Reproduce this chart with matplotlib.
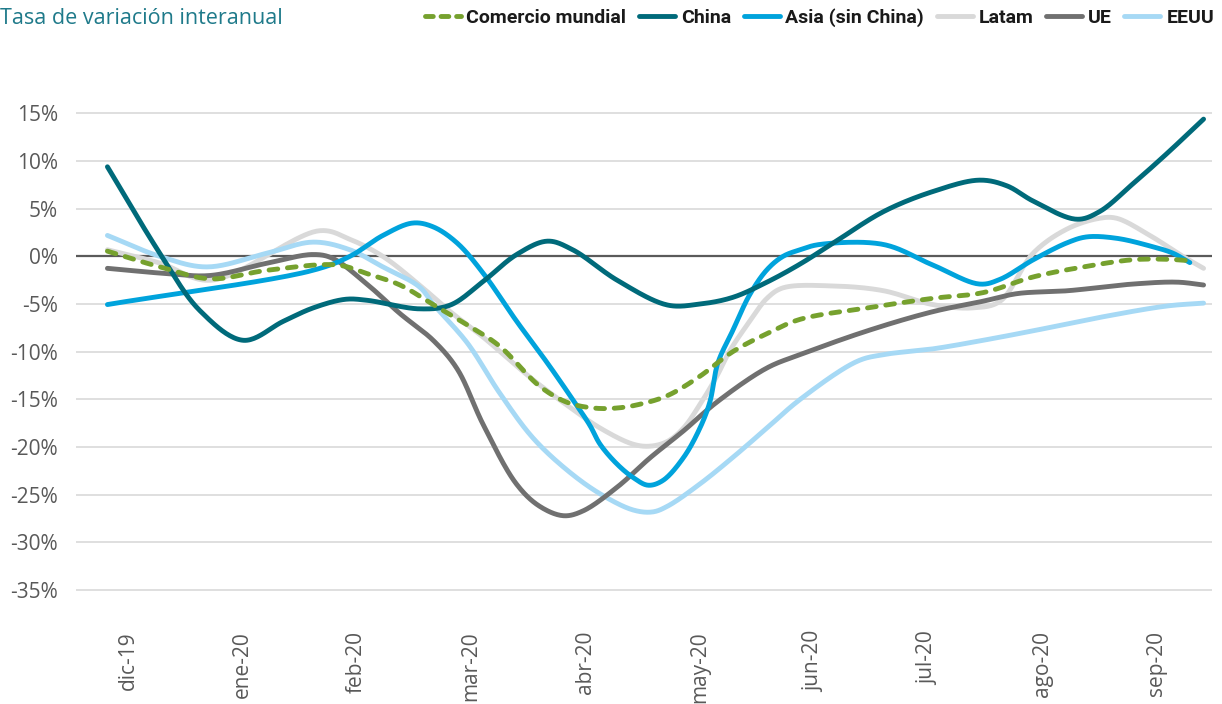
import numpy as np
import matplotlib
matplotlib.use("Agg")
import matplotlib.pyplot as plt
from matplotlib import font_manager as fm
from matplotlib.lines import Line2D

# ---------------- data (x = month index, 0 = dic-19) ----------------
month_labels = ["dic-19", "ene-20", "feb-20", "mar-20", "abr-20",
                "may-20", "jun-20", "jul-20", "ago-20", "sep-20"]
y_ticks = [15, 10, 5, 0, -5, -10, -15, -20, -25, -30, -35]

x_comercio = [-0.18, 0.28, 0.72, 1.22, 1.83, 2.09, 2.38, 2.67, 2.97, 3.25, 3.60, 3.84, 4.07,
              4.28, 4.48, 4.72, 5.00, 5.29, 5.59, 5.88, 6.47, 7.04, 7.48, 7.92, 8.36, 8.79,
              9.09, 9.29]
y_comercio = [0.55, -1.1, -2.35, -1.45, -0.9, -1.8, -3.0, -5.05, -7.2, -9.4, -13.6, -15.3, -15.9,
              -15.9, -15.5, -14.6, -12.6, -10.0, -8.1, -6.6, -5.4, -4.4, -3.8, -2.15, -1.1, -0.35,
              -0.3, -0.45]

x_china = [-0.18, 0.28, 0.63, 1.01, 1.36, 1.62, 1.90, 2.09, 2.55, 2.82, 3.11, 3.40, 3.67, 3.89,
           4.28, 4.72, 5.00, 5.29, 5.59, 5.88, 6.17, 6.61, 7.04, 7.45, 7.69, 7.92, 8.30, 8.50,
           8.79, 9.09, 9.41]
y_china = [9.4, 0.3, -5.7, -8.8, -6.8, -5.4, -4.5, -4.6, -5.5, -5.1, -2.6, 0.2, 1.6, 0.7,
           -2.5, -5.1, -5.0, -4.3, -2.7, -0.8, 1.4, 4.7, 6.8, 8.0, 7.4, 5.8, 3.9, 4.7,
           7.6, 10.8, 14.4]

x_asia = [-0.18, 1.62, 1.94, 2.23, 2.49, 2.67, 2.88, 3.11, 3.40, 3.67, 3.89, 4.04, 4.13, 4.28,
          4.42, 4.55, 4.68, 4.86, 5.00, 5.09, 5.16, 5.29, 5.44, 5.59, 5.73, 5.88, 6.05, 6.61,
          7.04, 7.45, 7.63, 7.92, 8.22, 8.39, 8.65, 8.94, 9.14, 9.29]
y_asia = [-5.05, -1.45, 0.0, 2.2, 3.5, 3.1, 1.4, -1.8, -6.8, -11.2, -15.0, -17.7, -19.7, -21.8,
          -23.2, -24.0, -23.5, -21.1, -18.1, -15.3, -11.2, -7.8, -4.0, -1.4, 0.0, 0.7, 1.25, 1.25,
          -0.9, -2.9, -2.4, -0.35, 1.45, 2.05, 1.9, 1.1, 0.35, -0.65]

x_latam = [-0.18, 0.28, 0.72, 1.68, 1.94, 2.23, 2.55, 2.82, 3.11, 3.54, 3.84, 4.13, 4.42, 4.57,
           4.72, 4.86, 5.00, 5.15, 5.27, 5.44, 5.59, 5.73, 6.17, 6.61, 7.04, 7.39, 7.63, 7.92,
           8.22, 8.50, 8.65, 8.94, 9.23, 9.41]
y_latam = [0.7, -0.7, -2.5, 2.7, 1.8, 0.0, -3.0, -5.8, -8.5, -12.9, -15.6, -18.0, -19.7, -19.9,
           -19.4, -18.0, -15.6, -12.6, -9.8, -6.8, -4.4, -3.3, -3.1, -3.6, -5.05, -5.4, -4.7, 0.35,
           2.9, 4.0, 4.0, 2.2, 0.0, -1.25]

x_ue = [-0.18, 0.34, 0.72, 1.22, 1.62, 1.79, 2.09, 2.38, 2.67, 2.88, 3.11, 3.40, 3.60, 3.81,
        3.98, 4.28, 4.57, 4.86, 5.15, 5.59, 5.88, 6.47, 7.04, 7.48, 7.78, 8.22, 8.79, 9.18, 9.41]
y_ue = [-1.25, -1.8, -2.0, -0.7, 0.2, -0.2, -2.9, -6.0, -8.8, -11.8, -17.7, -23.9, -26.2, -27.2,
        -26.7, -24.2, -21.1, -18.3, -15.3, -11.7, -10.3, -7.8, -5.8, -4.7, -3.9, -3.6, -2.9, -2.7, -3.0]

x_eeuu = [-0.18, 0.28, 0.69, 1.22, 1.62, 1.94, 2.23, 2.55, 2.67, 2.97, 3.25, 3.54, 3.84, 4.13,
          4.42, 4.59, 4.72, 5.00, 5.29, 5.59, 5.88, 6.38, 6.61, 7.04, 7.48, 7.92, 8.50, 9.09, 9.41]
y_eeuu = [2.2, 0.0, -1.1, 0.35, 1.5, 0.7, -1.1, -3.2, -5.0, -9.1, -14.3, -19.0, -22.4, -24.9,
          -26.6, -26.8, -26.2, -23.9, -21.1, -18.0, -15.0, -11.0, -10.3, -9.7, -8.8, -7.8, -6.4, -5.2, -4.9]

# ---------------- helpers ----------------
def smooth(xs, ys, sx=114.0, sy=9.5, n=24, alpha=0.5):
    P = np.column_stack([np.asarray(xs, float) * sx, np.asarray(ys, float) * sy])
    P = np.vstack([2 * P[0] - P[1], P, 2 * P[-1] - P[-2]])
    out = []
    for i in range(1, len(P) - 2):
        p0, p1, p2, p3 = P[i - 1], P[i], P[i + 1], P[i + 2]
        t0 = 0.0
        t1 = t0 + max(np.linalg.norm(p1 - p0), 1e-6) ** alpha
        t2 = t1 + max(np.linalg.norm(p2 - p1), 1e-6) ** alpha
        t3 = t2 + max(np.linalg.norm(p3 - p2), 1e-6) ** alpha
        t = np.linspace(t1, t2, n)[:, None]
        A1 = (t1 - t) / (t1 - t0) * p0 + (t - t0) / (t1 - t0) * p1
        A2 = (t2 - t) / (t2 - t1) * p1 + (t - t1) / (t2 - t1) * p2
        A3 = (t3 - t) / (t3 - t2) * p2 + (t - t2) / (t3 - t2) * p3
        B1 = (t2 - t) / (t2 - t0) * A1 + (t - t0) / (t2 - t0) * A2
        B2 = (t3 - t) / (t3 - t1) * A2 + (t - t1) / (t3 - t1) * A3
        C = (t2 - t) / (t2 - t1) * B1 + (t - t1) / (t2 - t1) * B2
        out.append(C if i == len(P) - 3 else C[:-1])
    C = np.vstack(out)
    return C[:, 0] / sx, C[:, 1] / sy


def has_font(name):
    try:
        fm.findfont(fm.FontProperties(family=name), fallback_to_default=False)
        return True
    except Exception:
        return False

tick_font = "Open Sans" if has_font("Open Sans") else "DejaVu Sans"
leg_font = "Liberation Sans Narrow" if has_font("Liberation Sans Narrow") else "Roboto"

# ---------------- figure ----------------
W, H = 1222, 704
fig = plt.figure(figsize=(W / 100, H / 100), dpi=100)
ax_top, ax_bot = 111.5, 592.0
ax = fig.add_axes([76 / W, 1 - ax_bot / H, 1136 / W, (ax_bot - ax_top) / H])

c_green = "#76a12e"
c_china = "#006a7a"
c_asia = "#00a3dc"
c_latam = "#d9d9d9"
c_ue = "#707070"
c_eeuu = "#a6d9f5"
lw = 3.5

series = [
    (x_latam, y_latam, c_latam, 2),
    (x_eeuu, y_eeuu, c_eeuu, 3),
    (x_ue, y_ue, c_ue, 4),
    (x_asia, y_asia, c_asia, 5),
    (x_china, y_china, c_china, 6),
]
for xs, ys, col, z in series:
    sx_, sy_ = smooth(xs, ys)
    ax.plot(sx_, sy_, color=col, lw=lw, solid_capstyle="round", zorder=z)

gx, gy = smooth(x_comercio, y_comercio)
ax.plot(gx, gy, color=c_green, lw=lw, dashes=(1.8, 2.0), dash_capstyle="round", zorder=7)

ax.axhline(0, color="#5a5a5a", lw=1.6, zorder=1.5)

ax.set_xlim((76 - 128) / 114.3, (1212 - 128) / 114.3)
ax.set_ylim(-35.2, 15.2)
ax.set_yticks(y_ticks)
ax.set_yticklabels([f"{v}%" for v in y_ticks])
ax.set_xticks(range(len(month_labels)))
ax.set_xticklabels(month_labels, rotation=90, va="top", ha="center")
ax.yaxis.grid(True, color="#d9d9d9", lw=1.2, zorder=0)
ax.set_axisbelow(True)
for s in ax.spines.values():
    s.set_visible(False)
ax.tick_params(axis="both", length=0, labelsize=15, labelcolor="#595959")
ax.tick_params(axis="y", pad=13)
ax.tick_params(axis="x", pad=28)
for lab in ax.get_xticklabels() + ax.get_yticklabels():
    lab.set_fontfamily(tick_font)

# title
fig.text(0.0, 1 - 18 / H, "Tasa de variación interanual", fontsize=15.5,
         color="#1f7a8a", family=tick_font, ha="left", va="center")

# legend
handles = [
    Line2D([], [], color=c_green, lw=lw, dashes=(1.6, 1.6), dash_capstyle="round"),
    Line2D([], [], color=c_china, lw=lw, solid_capstyle="round"),
    Line2D([], [], color=c_asia, lw=lw, solid_capstyle="round"),
    Line2D([], [], color=c_latam, lw=lw, solid_capstyle="round"),
    Line2D([], [], color=c_ue, lw=lw, solid_capstyle="round"),
    Line2D([], [], color=c_eeuu, lw=lw, solid_capstyle="round"),
]
labels = ["Comercio mundial", "China", "Asia (sin China)", "Latam", "UE", "EEUU"]
leg = fig.legend(handles, labels, loc="center right", bbox_to_anchor=(1214 / W, 1 - 18 / H),
                 ncol=6, frameon=False, borderpad=0, borderaxespad=0,
                 handlelength=1.85, handletextpad=0.3, columnspacing=0.65,
                 prop=fm.FontProperties(family=leg_font, weight="bold", size=14))
for t in leg.get_texts():
    t.set_color("#1a1a1a")

fig.savefig("out.png", dpi=100)
